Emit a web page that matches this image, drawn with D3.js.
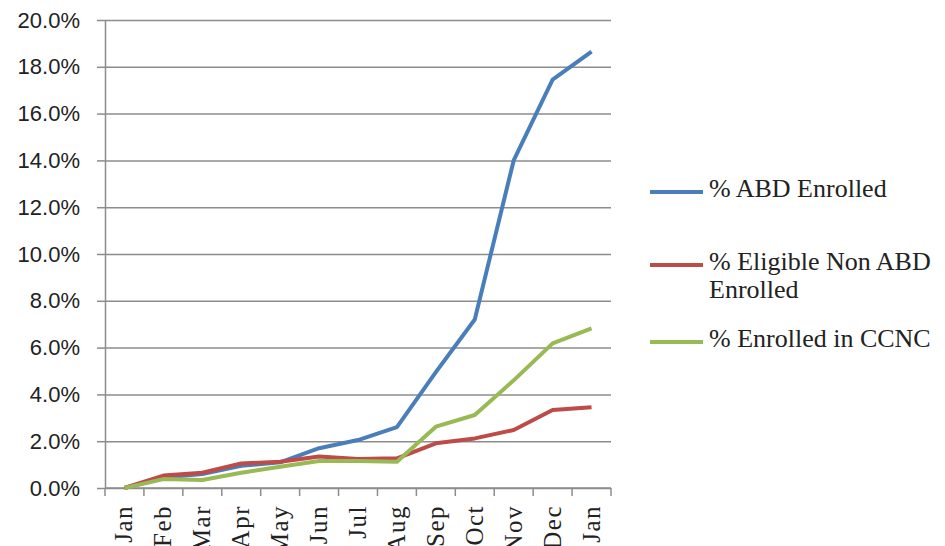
<!DOCTYPE html>
<html>
<head>
<meta charset="utf-8">
<script src="https://cdn.jsdelivr.net/npm/d3@7"></script>
<style>
  body { margin: 0; background: #fff; }
  svg { display: block; }
  .serif { font-family: 'Liberation Serif', 'DejaVu Serif', serif; }
  .sans { font-family: 'Liberation Sans', Arial, sans-serif; }
</style>
</head>
<body>
<div id="chart"></div>
<script>
const months = ['Jan','Feb','Mar','Apr','May','Jun','Jul','Aug','Sep','Oct','Nov','Dec','Jan'];
const abdEnrolled = [0, 0.45, 0.6, 0.95, 1.1, 1.7, 2.05, 2.6, 4.95, 7.2, 14.0, 17.45, 18.65];
const nonAbdEnrolled = [0, 0.53, 0.65, 1.05, 1.12, 1.35, 1.24, 1.27, 1.91, 2.12, 2.48, 3.33, 3.45];
const ccncEnrolled = [0, 0.38, 0.34, 0.65, 0.91, 1.15, 1.15, 1.12, 2.62, 3.12, 4.6, 6.18, 6.82];
const yTicks = [0, 2, 4, 6, 8, 10, 12, 14, 16, 18, 20];

const series = [
  {name: ['% ABD Enrolled'], values: abdEnrolled, color: '#4a7ebb'},
  {name: ['% Eligible Non ABD', 'Enrolled'], values: nonAbdEnrolled, color: '#be4b48'},
  {name: ['% Enrolled in CCNC'], values: ccncEnrolled, color: '#98b954'}
];

const width = 945, height = 546;
const plot = {left: 105, right: 611, top: 20, bottom: 488};

const svg = d3.select('#chart').append('svg')
  .attr('width', width)
  .attr('height', height);

const x = d3.scaleBand()
  .domain(d3.range(months.length))
  .range([plot.left, plot.right]);
const y = d3.scaleLinear()
  .domain([0, 20])
  .range([plot.bottom, plot.top]);

// gridlines
svg.append('g')
  .attr('transform', 'translate(' + plot.left + ',0)')
  .call(d3.axisLeft(y).tickValues(yTicks).tickSize(-(plot.right - plot.left)).tickFormat(''))
  .call(g => g.select('.domain').remove())
  .call(g => g.selectAll('line').attr('stroke', '#8c8c8c').attr('stroke-width', 1.5));

// y axis with labels
svg.append('g')
  .attr('transform', 'translate(' + plot.left + ',0)')
  .call(d3.axisLeft(y).tickValues(yTicks).tickSize(8).tickSizeOuter(0).tickPadding(17)
    .tickFormat(d => d3.format('.1f')(d) + '%'))
  .attr('font-family', null)
  .attr('font-size', null)
  .call(g => g.select('.domain').attr('stroke', '#8c8c8c').attr('stroke-width', 1.5))
  .call(g => g.selectAll('line').attr('stroke', '#8c8c8c').attr('stroke-width', 1.5))
  .call(g => g.selectAll('text')
    .attr('class', 'sans')
    .attr('fill', '#222')
    .attr('font-size', 22));

// x axis: line, ticks at category boundaries, rotated labels
const xAxis = svg.append('g');
xAxis.append('line')
  .attr('x1', plot.left).attr('x2', plot.right)
  .attr('y1', y(0)).attr('y2', y(0))
  .attr('stroke', '#8c8c8c').attr('stroke-width', 1.5);
xAxis.selectAll('.xtick')
  .data(d3.range(months.length + 1))
  .enter().append('line')
  .attr('class', 'xtick')
  .attr('x1', i => i < months.length ? x(i) : plot.right)
  .attr('x2', i => i < months.length ? x(i) : plot.right)
  .attr('y1', y(0)).attr('y2', y(0) + 8)
  .attr('stroke', '#8c8c8c').attr('stroke-width', 1.5);
xAxis.selectAll('.xlabel')
  .data(months)
  .enter().append('text')
  .attr('class', 'xlabel serif')
  .attr('transform', (d, i) => 'translate(' + (x(i) + x.bandwidth() / 2 + 8) + ',' + (y(0) + 17) + ') rotate(-90)')
  .attr('text-anchor', 'end')
  .attr('fill', '#222')
  .attr('font-size', 25)
  .attr('letter-spacing', 1.5)
  .text(d => d);

// lines
const line = d3.line()
  .x((d, i) => x(i) + x.bandwidth() / 2)
  .y(d => y(d));

svg.append('g').selectAll('path')
  .data(series)
  .enter().append('path')
  .attr('d', d => line(d.values))
  .attr('fill', 'none')
  .attr('stroke', d => d.color)
  .attr('stroke-width', 4)
  .attr('stroke-linejoin', 'round');

// legend
const legendY = [192, 265, 342];
const legend = svg.append('g').selectAll('g')
  .data(series)
  .enter().append('g')
  .attr('transform', (d, i) => 'translate(650,' + legendY[i] + ')');
legend.append('line')
  .attr('x1', 0).attr('x2', 53)
  .attr('stroke', d => d.color)
  .attr('stroke-width', 4);
legend.append('text')
  .attr('class', 'serif')
  .attr('fill', '#222')
  .attr('font-size', 26)
  .selectAll('tspan')
  .data(d => d.name)
  .enter().append('tspan')
  .attr('x', 59)
  .attr('y', (d, i) => 5 + i * 28)
  .text(d => d);
</script>
</body>
</html>
